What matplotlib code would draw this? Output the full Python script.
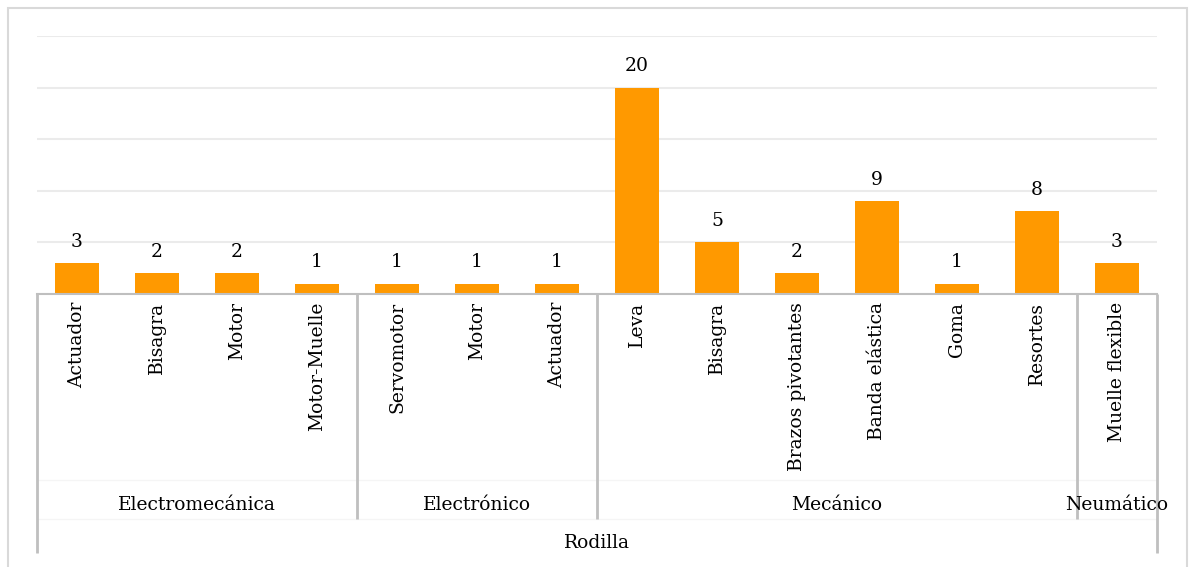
import matplotlib
matplotlib.use("Agg")
import matplotlib.pyplot as plt
from matplotlib.transforms import blended_transform_factory
from matplotlib.patches import Rectangle

categories = ["Actuador", "Bisagra", "Motor", "Motor-Muelle",
              "Servomotor", "Motor", "Actuador",
              "Leva", "Bisagra", "Brazos pivotantes", "Banda elástica", "Goma", "Resortes",
              "Muelle flexible"]
values = [3, 2, 2, 1, 1, 1, 1, 20, 5, 2, 9, 1, 8, 3]
groups = ["Electromecánica", "Electrónico", "Mecánico", "Neumático"]
group_sizes = [4, 3, 6, 1]
top_label = "Rodilla"

W, H = 1189, 567
fig = plt.figure(figsize=(W / 100, H / 100), dpi=100)
plt.rcParams['font.family'] = ['DejaVu Serif']
FS = 13.5

def fy(py):
    return (H - py) / H

def fx(px):
    return px / W

# outer chart border
fig.patches.append(Rectangle((fx(7.5), fy(575)), fx(1187) - fx(7.5), fy(7.5) - fy(575),
                             transform=fig.transFigure, fill=False,
                             edgecolor="#d9d9d9", linewidth=1.5, zorder=0))

x0, x1 = 37, 1157
ybase, ytop = 294, 36
ax = fig.add_axes([fx(x0), fy(ybase), fx(x1) - fx(x0), fy(ytop) - fy(ybase)])
n = len(categories)
xs = list(range(n))
ax.bar(xs, values, width=0.55, color="#FF9900", zorder=3)
ax.set_xlim(-0.5, n - 0.5)
ax.set_ylim(0, 25)
ax.set_yticks([0, 5, 10, 15, 20, 25])
ax.yaxis.grid(True, color="#ebebeb", linewidth=1.5, zorder=0)
ax.tick_params(left=False, labelleft=False, bottom=False, labelbottom=False)
for s in ["top", "right", "left"]:
    ax.spines[s].set_visible(False)
ax.spines["bottom"].set_color("#bfbfbf")
ax.spines["bottom"].set_linewidth(1.5)
ax.spines["bottom"].set_zorder(4)

for x, v in zip(xs, values):
    ax.annotate(str(v), (x, v), xytext=(0, 9), textcoords="offset points",
                ha="center", va="bottom", fontsize=FS, color="#000000")

tr = blended_transform_factory(ax.transData, fig.transFigure)
lc = "#bfbfbf"

# category labels
for x, c in zip(xs, categories):
    ax.text(x, fy(302), c, transform=tr, rotation=90, ha="center", va="top",
            fontsize=FS, color="#000000")

# faint horizontal separators
for py in [480, 519]:
    ax.plot([-0.5, n - 0.5], [fy(py), fy(py)], transform=tr, color="#f5f5f5",
            linewidth=1, clip_on=False, zorder=1)

# group separators and labels
start = 0
bounds = [-0.5]
for g, sz in zip(groups, group_sizes):
    end = start + sz
    bounds.append(end - 0.5)
    cx = (start + end - 1) / 2
    ax.text(cx, fy(505), g, transform=tr, ha="center", va="center",
            fontsize=FS, color="#000000")
    start = end

for b in bounds:
    bottom = 553 if b in (-0.5, n - 0.5) else 519
    ax.plot([b, b], [fy(294), fy(bottom)], transform=tr, color=lc,
            linewidth=2, clip_on=False, zorder=2, solid_capstyle="butt")

ax.text((n - 1) / 2, fy(543), top_label, transform=tr, ha="center", va="center",
        fontsize=FS, color="#000000")

fig.savefig("out.png", dpi=100, facecolor="white")
